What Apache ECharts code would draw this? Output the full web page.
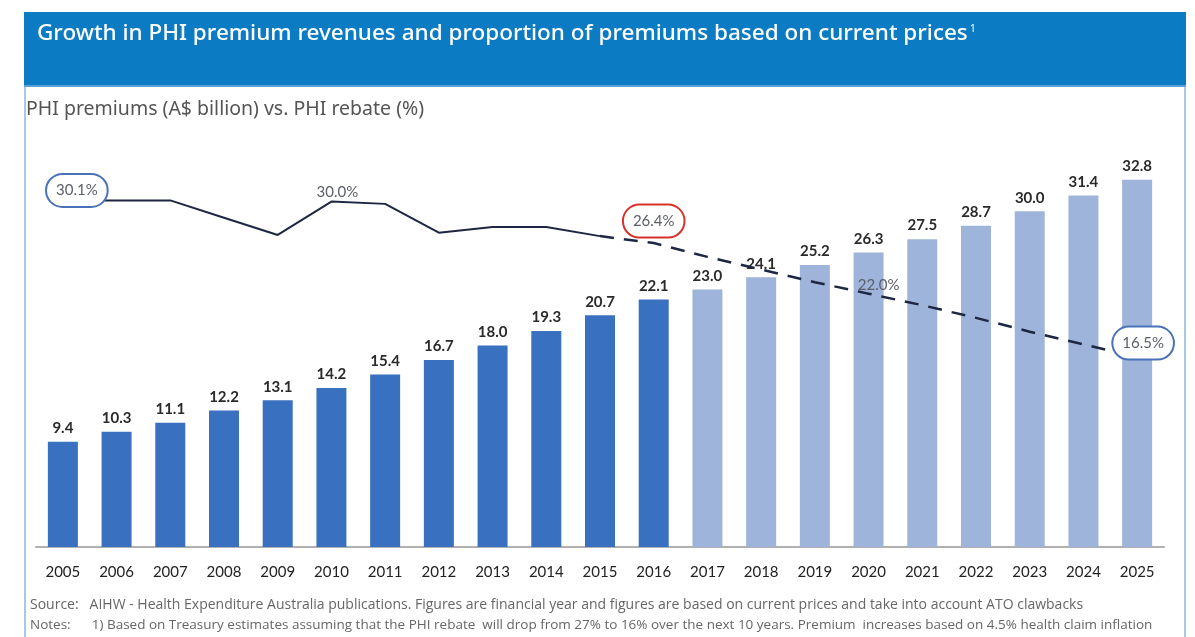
<!DOCTYPE html>
<html>
<head>
<meta charset="utf-8">
<script src="https://cdn.jsdelivr.net/npm/echarts@6/dist/echarts.min.js"></script>
<style>
  html, body { margin: 0; padding: 0; background: #fff; }
  #chart { width: 1195px; height: 637px; }
</style>
</head>
<body>
<div id="chart"></div>
<script>
  // data
  var years = ['2005','2006','2007','2008','2009','2010','2011','2012','2013','2014','2015',
               '2016','2017','2018','2019','2020','2021','2022','2023','2024','2025'];
  var premiums = [9.4, 10.3, 11.1, 12.2, 13.1, 14.2, 15.4, 16.7, 18.0, 19.3, 20.7,
                  22.1, 23.0, 24.1, 25.2, 26.3, 27.5, 28.7, 30.0, 31.4, 32.8];
  var rebate = [30.1, 30.1, 30.1, 28.6, 27.1, 30.0, 29.8, 27.3, 27.8, 27.8, 27.0,
                26.4, 25.2, 24.1, 23.0, 22.0, 21.0, 19.9, 18.7, 17.6, 16.5];
  var lastActual = 11;   // index of 2016, last dark bar
  var solidEnd = 10;     // rebate line solid through 2015, dashed after

  var darkBar = '#3a70c0';
  var lightBar = '#9fb4da';
  var lineCol = '#1d2742';

  var barData = premiums.map(function (v, i) {
    return { value: v, itemStyle: { color: i <= lastActual ? darkBar : lightBar } };
  });

  // callouts on the rebate line
  var callouts = {
    0:  { offset: [14, -10], borderColor: '#4a72b8' },
    5:  { offset: [6, -9] },
    11: { offset: [0, -22], borderColor: '#d9302a' },
    15: { offset: [10, -9] },
    20: { offset: [6, -14], borderColor: '#4a72b8' }
  };
  function rebatePoint(v, i) {
    var c = callouts[i];
    if (!c) return v;
    var lab = {
      show: true, position: 'inside', offset: c.offset,
      formatter: v.toFixed(1) + '%', fontSize: 15, color: '#5a5f6a',
      fontFamily: 'Lato'
    };
    if (c.borderColor) {
      lab.borderColor = c.borderColor; lab.borderWidth = 2; lab.borderRadius = 20;
      lab.padding = [8, 9]; lab.backgroundColor = '#fff';
    }
    return { value: v, label: lab };
  }
  var solidData = rebate.map(function (v, i) { return i <= solidEnd ? rebatePoint(v, i) : '-'; });
  var dashData = rebate.map(function (v, i) { return i >= solidEnd ? (i === solidEnd ? v : rebatePoint(v, i)) : '-'; });

  var chart = echarts.init(document.getElementById('chart'));
  chart.setOption({
    animation: false,
    textStyle: { fontFamily: 'Lato' },
    grid: { left: 36, right: 31, top: 144, bottom: 90 },
    xAxis: {
      type: 'category', data: years,
      axisLine: { lineStyle: { color: '#b0b0b0', width: 2 } },
      axisTick: { show: false },
      axisLabel: { fontSize: 15, color: '#222', margin: 18, fontFamily: 'Lato' }
    },
    yAxis: [
      { type: 'value', min: 0, max: 36, show: false },
      { type: 'value', min: 0, max: 35, show: false }
    ],
    graphic: [
      { type: 'rect', shape: { x: 24, y: 12, width: 1162, height: 75 },
        style: { fill: '#0b7bc3' }, z: -1 },
      { type: 'rect', shape: { x: 24, y: 85, width: 1162, height: 2 },
        style: { fill: '#5aa2d6' }, z: -1 },
      { type: 'rect', shape: { x: 24, y: 87, width: 2, height: 550 },
        style: { fill: '#a9c8e6' }, z: -1 },
      { type: 'rect', shape: { x: 1184, y: 87, width: 2, height: 550 },
        style: { fill: '#a9c8e6' }, z: -1 },
      { type: 'text', left: 37, top: 22,
        style: { text: 'Growth in PHI premium revenues and proportion of premiums based on current prices',
                 fill: '#fff', font: '500 22.5px "Noto Sans"' } },
      { type: 'text', left: 970, top: 24,
        style: { text: '1', fill: '#fff', font: '10px "Noto Sans"' } },
      { type: 'text', left: 26, top: 99,
        style: { text: 'PHI premiums (A$ billion) vs. PHI rebate (%)',
                 fill: '#555', font: '19.5px "Noto Sans"' } },
      { type: 'text', left: 30, top: 598,
        style: { text: 'Source:   AIHW - Health Expenditure Australia publications. Figures are financial year and figures are based on current prices and take into account ATO clawbacks',
                 fill: '#666', font: '14px "Open Sans"' } },
      { type: 'text', left: 30, top: 618,
        style: { text: 'Notes:      1) Based on Treasury estimates assuming that the PHI rebate  will drop from 27% to 16% over the next 10 years. Premium  increases based on 4.5% health claim inflation',
                 fill: '#666', font: '13.5px "Open Sans"' } }
    ],
    series: [
      {
        type: 'bar', data: barData, barWidth: 30, yAxisIndex: 0,
        label: { show: true, position: 'top', distance: 6, fontSize: 15, color: '#2a2a2a',
                 fontFamily: 'Lato', fontWeight: 'bold',
                 formatter: function (p) { return p.value.toFixed(1); } }
      },
      {
        type: 'line', data: solidData, yAxisIndex: 1, symbol: 'circle', symbolSize: 0,
        itemStyle: { color: lineCol }, lineStyle: { color: lineCol, width: 2 }, z: 5
      },
      {
        type: 'line', data: dashData, yAxisIndex: 1, symbol: 'circle', symbolSize: 0,
        itemStyle: { color: lineCol }, lineStyle: { color: lineCol, width: 2.5, type: [14, 10] }, z: 5
      }
    ]
  });
</script>
</body>
</html>
